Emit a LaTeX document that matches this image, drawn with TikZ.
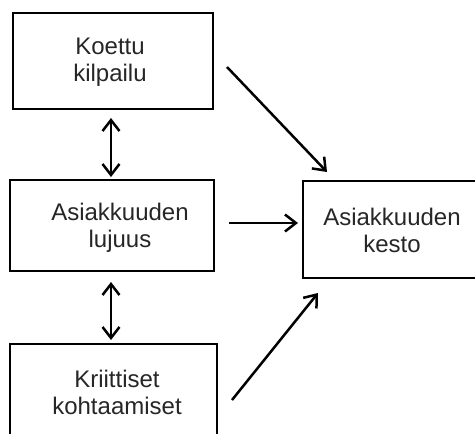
\documentclass[tikz,border=0pt]{standalone}
\usepackage{fontspec}
\setmainfont{Liberation Sans}
\usetikzlibrary{arrows.meta}
\begin{document}
\begin{tikzpicture}[x=1pt,y=-1pt,
  box/.style={draw=black,line width=2.8pt,rectangle,inner sep=0pt},
  lbl/.style={align=center,inner sep=0pt,font=\fontsize{24}{27}\selectfont,text=black!85},
  tip/.style={Straight Barb[length=11pt,width=17pt,line width=2.5pt]},
  arr/.style={line width=2.5pt,-{Straight Barb[length=11pt,width=17pt,line width=2.5pt]}},
  darr/.style={line width=2.5pt,{Straight Barb[length=11pt,width=17pt,line width=2.5pt]}-{Straight Barb[length=11pt,width=17pt,line width=2.5pt]}}]
\useasboundingbox (0,0) rectangle (475,434);
\clip (0,0) rectangle (475,434);
% boxes
\node[box,minimum width=200pt,minimum height=96pt] (b1) at (113,61) {};
\node[box,minimum width=204pt,minimum height=91pt] (b2) at (112,225.5) {};
\node[box,minimum width=207pt,minimum height=100pt] (b3) at (113.5,394) {};
\node[box,minimum width=187pt,minimum height=97pt] (b4) at (396.5,229.5) {};
% labels
\node[lbl] (t1) at (110,62.5) {Koettu\\kilpailu};
\node[lbl] (t2) at (120,228) {Asiakkuuden\\lujuus};
\node[lbl] (t3) at (117,392) {Kriittiset\\kohtaamiset};
\node[lbl] (t4) at (392,230) {Asiakkuuden\\kesto};
% connector end points
\coordinate (d1a) at (111,118);
\coordinate (d1b) at (111,177);
\coordinate (d2a) at (111,282);
\coordinate (d2b) at (111,340);
\coordinate (a1s) at (227,67);
\coordinate (a1e) at (327,172);
\coordinate (a2s) at (229,223);
\coordinate (a2e) at (298,223);
\coordinate (a3s) at (232,400);
\coordinate (a3e) at (318,293);
% connectors
\draw[darr] (d1a) -- (d1b);
\draw[darr] (d2a) -- (d2b);
\draw[arr] (a1s) -- (a1e);
\draw[arr] (a2s) -- (a2e);
\draw[arr] (a3s) -- (a3e);
\end{tikzpicture}
\end{document}
